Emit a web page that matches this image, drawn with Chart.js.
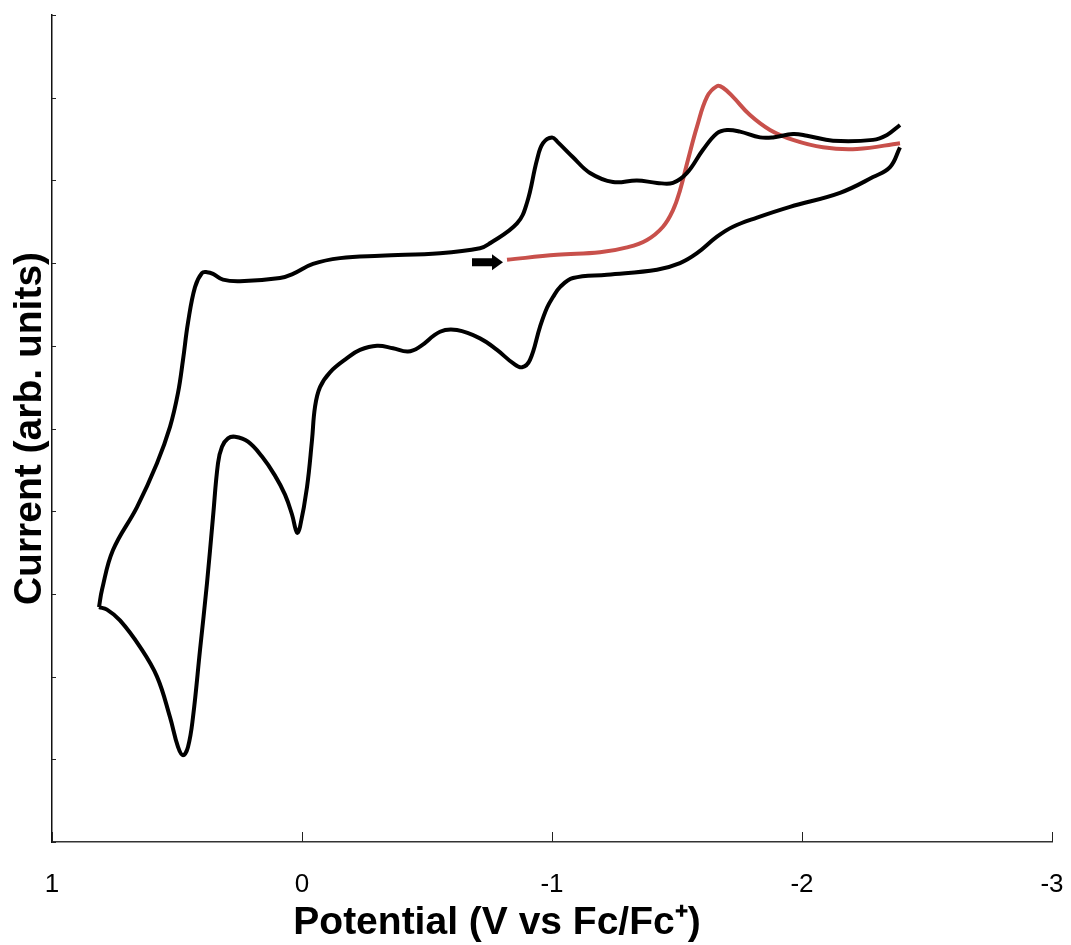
<!DOCTYPE html>
<html>
<head>
<meta charset="utf-8">
<script src="https://cdn.jsdelivr.net/npm/chart.js@4.4.1/dist/chart.umd.min.js"></script>
<style>
  html, body { margin: 0; padding: 0; background: #fff; }
  #wrap { width: 1071px; height: 945px; }
</style>
</head>
<body>
<div id="wrap"><canvas id="cvChart"></canvas></div>
<script>
// full cycle (black), potential in V vs Fc/Fc+, current in arb. units
// null splits the trace at the -2.4 V vertex
const cvPotential = [
  0.812, 0.800, 0.756, 0.660, 0.580, 0.528, 0.496, 0.476, 0.456, 0.428,
  0.400, 0.380, 0.356, 0.316, 0.248, 0.088, 0.036, -0.044, -0.152, -0.312,
  -0.552, -0.712, -0.752, -0.860, -0.900, -0.940, -0.964, -1.000, -1.024, -1.084,
  -1.152, -1.244, -1.340, -1.420, -1.484, -1.540, -1.604, -1.660, -1.700, -1.752,
  -1.832, -1.884, -1.964, -2.020, -2.124, -2.284, -2.340, -2.392,
  -2.392,
  -2.392, -2.352, -2.284, -2.152, -1.952, -1.820, -1.724, -1.660, -1.580, -1.512,
  -1.420, -1.220, -1.084, -1.032, -1.004, -0.980, -0.952, -0.912, -0.880, -0.844,
  -0.780, -0.712, -0.620, -0.552, -0.472, -0.424, -0.364, -0.300, -0.232, -0.180,
  -0.112, -0.072, -0.052, -0.040, -0.020, 0.008, 0.020, 0.040, 0.068, 0.108,
  0.160, 0.216, 0.268, 0.296, 0.320, 0.336, 0.356, 0.380, 0.408, 0.436, 0.456,
  0.476, 0.496, 0.528, 0.580, 0.648, 0.728, 0.780, 0.812
];
const cvCurrent = [
  2.84, 3.05, 3.53, 4.05, 4.58, 5.02, 5.43, 5.83, 6.28, 6.71,
  6.88, 6.89, 6.87, 6.80, 6.78, 6.82, 6.87, 6.99, 7.06, 7.09,
  7.12, 7.18, 7.24, 7.48, 7.73, 8.25, 8.45, 8.52, 8.46, 8.28,
  8.09, 7.98, 8.00, 7.97, 7.97, 8.09, 8.37, 8.57, 8.61, 8.59,
  8.52, 8.52, 8.56, 8.54, 8.48, 8.49, 8.55, 8.67,
  null,
  8.40, 8.16, 8.04, 7.85, 7.68, 7.55, 7.44, 7.32, 7.12, 7.00,
  6.92, 6.86, 6.82, 6.71, 6.59, 6.46, 6.23, 5.83, 5.74, 5.79,
  5.95, 6.09, 6.19, 6.17, 5.99, 5.93, 5.97, 6.00, 5.95, 5.85,
  5.68, 5.50, 5.26, 4.86, 4.29, 3.81, 3.74, 3.96, 4.20, 4.43,
  4.66, 4.84, 4.90, 4.88, 4.78, 4.58, 3.93, 3.13, 2.32, 1.51, 1.15,
  1.05, 1.15, 1.51, 2.00, 2.36, 2.68, 2.81, 2.84
];

// first reductive scan (red)
const scanPotential = [
  -0.820, -1.020, -1.192, -1.300, -1.380, -1.444, -1.484, -1.512, -1.544, -1.580,
  -1.620, -1.660, -1.684, -1.724, -1.792, -1.872, -1.964, -2.084, -2.220, -2.392
];
const scanCurrent = [
  7.04, 7.10, 7.13, 7.19, 7.28, 7.44, 7.64, 7.88, 8.25, 8.65,
  9.01, 9.14, 9.12, 9.01, 8.79, 8.61, 8.49, 8.40, 8.38, 8.45
];

// start arrow (tail, head)
const arrowPotential = [-0.68, -0.804];
const arrowCurrent = [7.01, 7.01];

const xTicks = [1, 0, -1, -2, -3];
const yTicks = [0, 1, 2, 3, 4, 5, 6, 7, 8, 9, 10];
const xTitle = "Potential (V vs Fc/Fc\u207A)";
const yTitle = "Current (arb. units)";

const fontFamily = "'Liberation Sans', Arial, Helvetica, sans-serif";

const toPoints = (xs, ys) => xs.map((x, i) => ({ x: x, y: ys[i] }));

// ticks pointing into the plot, the start arrow and the x title
const extras = {
  id: "extras",
  afterDatasetsDraw(chart) {
    const { ctx, scales: { x, y } } = chart;
    ctx.save();
    ctx.strokeStyle = "#222";
    ctx.lineWidth = 1;
    xTicks.forEach((v) => {
      const px = Math.round(x.getPixelForValue(v)) + 0.5;
      ctx.beginPath();
      ctx.moveTo(px, y.bottom);
      ctx.lineTo(px, y.bottom - 10);
      ctx.stroke();
    });
    yTicks.forEach((v) => {
      const py = Math.round(y.getPixelForValue(v)) + 0.5;
      ctx.beginPath();
      ctx.moveTo(x.left, py);
      ctx.lineTo(x.left + 4, py);
      ctx.stroke();
    });

    const x0 = x.getPixelForValue(arrowPotential[0]);
    const x1 = x.getPixelForValue(arrowPotential[1]);
    const ay = y.getPixelForValue(arrowCurrent[0]);
    const headLen = 11;
    ctx.fillStyle = "#000";
    ctx.beginPath();
    ctx.moveTo(x0, ay - 4);
    ctx.lineTo(x1 - headLen, ay - 4);
    ctx.lineTo(x1 - headLen, ay - 8);
    ctx.lineTo(x1, ay);
    ctx.lineTo(x1 - headLen, ay + 8);
    ctx.lineTo(x1 - headLen, ay + 4);
    ctx.lineTo(x0, ay + 4);
    ctx.closePath();
    ctx.fill();

    // x title sits left of centre in the original
    ctx.fillStyle = "#000";
    ctx.font = "bold 39px " + fontFamily;
    ctx.textAlign = "center";
    ctx.textBaseline = "middle";
    ctx.fillText(xTitle, (x.left + x.right) / 2 - 55, x.bottom - 22);
    ctx.restore();
  },
};

const ctx = document.getElementById("cvChart").getContext("2d");

new Chart(ctx, {
  type: "scatter",
  data: {
    datasets: [
      {
        label: "CV",
        data: toPoints(cvPotential, cvCurrent),
        showLine: true,
        spanGaps: false,
        borderColor: "#000000",
        borderWidth: 4,
        pointRadius: 0,
        tension: 0.4,
        fill: false,
      },
      {
        label: "First scan",
        data: toPoints(scanPotential, scanCurrent),
        showLine: true,
        borderColor: "#c8504b",
        borderWidth: 4,
        pointRadius: 0,
        tension: 0.4,
        fill: false,
      },
    ],
  },
  options: {
    responsive: true,
    maintainAspectRatio: false,
    animation: false,
    layout: { padding: { top: 15, right: 0, bottom: 0, left: 0 } },
    plugins: {
      legend: { display: false },
      tooltip: { enabled: false },
    },
    scales: {
      x: {
        type: "linear",
        min: -3,
        max: 1,
        reverse: true,
        afterBuildTicks: (scale) => {
          scale.ticks = xTicks.map((v) => ({ value: v }));
        },
        afterFit: (scale) => {
          scale.height = 103;
          scale.paddingLeft = 0;
          scale.paddingRight = 19;
        },
        grid: { display: false, drawTicks: false },
        border: { display: true, color: "#333", width: 1.5 },
        ticks: {
          color: "#000",
          padding: 27,
          maxRotation: 0,
          font: { family: fontFamily, size: 26 },
        },
        title: { display: false, text: xTitle },
      },
      y: {
        type: "linear",
        min: 0,
        max: 10,
        afterFit: (scale) => {
          scale.width = 52;
        },
        grid: { display: false, drawTicks: false },
        border: { display: true, color: "#111", width: 1.5 },
        ticks: { display: false, stepSize: 1 },
        title: {
          display: true,
          text: yTitle,
          color: "#000",
          padding: { top: 7, bottom: 0 },
          font: { family: fontFamily, size: 39, weight: "bold" },
        },
      },
    },
  },
  plugins: [extras],
});
</script>
</body>
</html>
